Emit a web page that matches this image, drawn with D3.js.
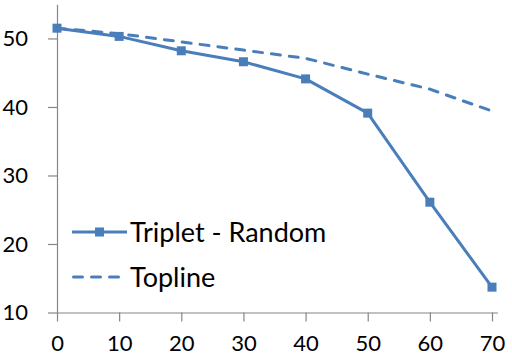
<!DOCTYPE html>
<html>
<head>
<meta charset="utf-8">
<script src="https://cdn.jsdelivr.net/npm/d3@7"></script>
<style>
  body { margin: 0; background: #fff; }
  text { font-family: Lato, "Open Sans", sans-serif; fill: #000; }
</style>
</head>
<body>
<div id="chart"></div>
<script>
// data
const xValues = [0, 10, 20, 30, 40, 50, 60, 70];
const tripletRandom = [51.5, 50.3, 48.2, 46.6, 44.1, 39.1, 26.1, 13.7];
const topline = [51.5, 50.7, 49.5, 48.3, 47.1, 44.8, 42.6, 39.4];
const seriesNames = ["Triplet - Random", "Topline"];
const yTicks = [10, 20, 30, 40, 50];

const width = 512, height = 364;
const color = "#4a7ebb";

const svg = d3.select("#chart").append("svg")
    .attr("width", width)
    .attr("height", height);

const x = d3.scaleLinear().domain([0, 70]).range([57, 492]);
const y = d3.scaleLinear().domain([10, 55]).range([312.5, 4.2]);

// y axis
svg.append("g")
    .attr("transform", "translate(57,0)")
    .call(d3.axisLeft(y).tickValues(yTicks).tickSize(9).tickSizeOuter(0).tickPadding(20));

// x axis
const xAxis = svg.append("g")
    .attr("transform", "translate(0,312.5)")
    .call(d3.axisBottom(x).tickValues(xValues).tickSize(9).tickSizeOuter(0).tickPadding(14));

xAxis.select(".domain").attr("d", "M57,0.5H498");

svg.selectAll(".domain, .tick line").attr("stroke", "#868686").attr("stroke-width", 1.2);
svg.selectAll(".tick text").style("font-size", "22px").attr("fill", "#000");

const line = d3.line()
    .x((d, i) => x(xValues[i]))
    .y(d => y(d));

// topline (dashed)
svg.append("path")
    .datum(topline)
    .attr("d", line)
    .attr("fill", "none")
    .attr("stroke", color)
    .attr("stroke-width", 3)
    .attr("stroke-dasharray", "9,9")
    .attr("stroke-linecap", "round");

// triplet - random
svg.append("path")
    .datum(tripletRandom)
    .attr("d", line)
    .attr("fill", "none")
    .attr("stroke", color)
    .attr("stroke-width", 3)
    .attr("stroke-linejoin", "round");

svg.selectAll(".marker")
    .data(tripletRandom)
    .enter().append("rect")
    .attr("class", "marker")
    .attr("x", (d, i) => x(xValues[i]) - 4.5)
    .attr("y", d => y(d) - 4.5)
    .attr("width", 9)
    .attr("height", 9)
    .attr("fill", color);

// legend
const legend = svg.append("g").attr("transform", "translate(72,232)");

legend.append("line")
    .attr("x1", 0).attr("x2", 55).attr("y1", 0).attr("y2", 0)
    .attr("stroke", color).attr("stroke-width", 3);
legend.append("rect")
    .attr("x", 23).attr("y", -4.5).attr("width", 9).attr("height", 9)
    .attr("fill", color);
legend.append("text")
    .attr("x", 58).attr("y", 9.5)
    .style("font-size", "27px")
    .text(seriesNames[0]);

legend.append("line")
    .attr("x1", 1.5).attr("x2", 55).attr("y1", 45).attr("y2", 45)
    .attr("stroke", color).attr("stroke-width", 3)
    .attr("stroke-dasharray", "9,9").attr("stroke-linecap", "round");
legend.append("text")
    .attr("x", 58).attr("y", 54.5)
    .style("font-size", "27px")
    .text(seriesNames[1]);
</script>
</body>
</html>
